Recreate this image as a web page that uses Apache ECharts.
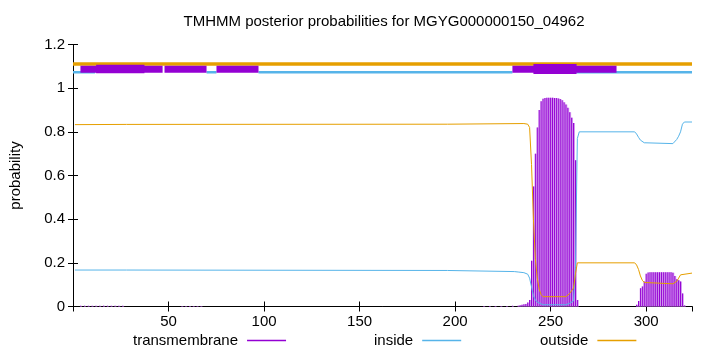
<!DOCTYPE html>
<html>
<head>
<meta charset="utf-8">
<script src="https://cdn.jsdelivr.net/npm/echarts@6/dist/echarts.min.js"></script>
<style>html,body{margin:0;padding:0;background:#fff}#c{width:720px;height:352px}</style>
</head>
<body>
<div id="c"></div>
<script>
// ---- data ----
var titleText = 'TMHMM posterior probabilities for MGYG000000150_04962';
var xTicks = [50, 100, 150, 200, 250, 300];
var yTicks = [0, 0.2, 0.4, 0.6, 0.8, 1, 1.2];
var seqLength = 324;

// transmembrane posterior (residue, probability), impulses
var tmProb = [
  [4,0.003],[6,0.003],[8,0.003],[10,0.003],[12,0.003],[14,0.003],[16,0.003],[18,0.003],[20,0.003],[22,0.003],[24,0.003],[26,0.003],
  [57,0.002],[59,0.002],[61,0.002],[63,0.002],[65,0.002],[67,0.002],
  [215,0.002],[218,0.002],[221,0.002],[224,0.002],[227,0.002],[230,0.003],
  [233,0.004],[234,0.006],[235,0.008],[236,0.010],[237,0.012],[238,0.018],[239,0.030],
  [240,0.21],[241,0.55],[242,0.70],[243,0.82],[244,0.90],[245,0.94],[246,0.952],[247,0.955],
  [248,0.956],[249,0.956],[250,0.956],[251,0.956],[252,0.955],[253,0.955],[254,0.953],[255,0.950],
  [256,0.945],[257,0.935],[258,0.925],[259,0.910],[260,0.890],[261,0.865],[262,0.840],[263,0.670],[264,0.030],
  [295,0.008],[296,0.025],[297,0.084],[298,0.092],[299,0.115],[300,0.150],[301,0.156],[302,0.157],
  [303,0.157],[304,0.157],[305,0.157],[306,0.157],[307,0.157],[308,0.157],[309,0.157],[310,0.157],
  [311,0.157],[312,0.157],[313,0.157],[314,0.155],[315,0.140],[316,0.125],[317,0.120],[318,0.115],
  [319,0.060],[320,0.005]
];

// inside posterior (residue, probability)
var insideProb = [
  [1,0.167],[28,0.167],[29,0.166],[196,0.165],[197,0.162],[231,0.160],[233,0.158],[236,0.155],
  [238,0.148],[239,0.130],[240,0.090],[241,0.050],[242,0.030],[243,0.020],[244,0.012],[246,0.008],
  [258,0.008],[260,0.015],[262,0.025],[263,0.180],[264,0.770],[265,0.800],[294,0.800],[295,0.790],
  [296,0.775],[297,0.762],[298,0.755],[299,0.750],[300,0.746],[314,0.746],[315,0.755],[316,0.765],
  [317,0.780],[318,0.800],[319,0.835],[320,0.845],[324,0.845]
];

// outside posterior (residue, probability)
var outsideProb = [
  [1,0.833],[28,0.834],[29,0.835],[196,0.835],[197,0.838],[236,0.838],[238,0.835],[239,0.820],
  [240,0.650],[241,0.400],[242,0.220],[243,0.130],[244,0.080],[245,0.055],[246,0.045],[258,0.045],
  [259,0.050],[260,0.060],[261,0.065],[262,0.085],[263,0.150],[264,0.200],[294,0.200],[295,0.190],
  [296,0.170],[297,0.140],[298,0.120],[299,0.110],[300,0.104],[314,0.104],[315,0.106],[316,0.115],
  [317,0.130],[318,0.145],[319,0.153],[324,0.153]
];

// predicted topology track (residue ranges)
var topoOutside = [[0,324]];
var topoInside = [[0,11.6],[69.9,75.1],[97.1,230],[263.6,324]];
var topoTM = [[3.9,46.9],[47.9,69.9],[75.1,97.1],[230,284.5]];
var topoTMStrong = [[12.1,37.4],[241,263.6]];

// ---- styles ----
var PURPLE = '#9400D3', LIGHTPURPLE = '#d49ef0', BLUE = '#56B4E9', ORANGE = '#E69F00';
var FONT = 'Liberation Sans, Arial, sans-serif';
var FS = 15;
var levels = {outside:1.111, inside:1.073, tm:1.087, tmStrong:1.088};
var strongWidths = [8.5, 10];

function segSeries(segs, y, color, width) {
  return segs.map(function (s, i) {
    var w = Array.isArray(width) ? width[i] : width;
    return {
      type: 'line', silent: true, symbol: 'none', z: 5,
      data: [[s[0], y], [s[1], y]],
      lineStyle: {color: color, width: w, cap: 'butt'},
      itemStyle: {color: color},
      animation: false
    };
  });
}

var series = [
  {name: 'tmfill', type: 'bar', barWidth: 1.9, barGap: '-100%', data: tmProb,
   itemStyle: {color: LIGHTPURPLE}, silent: true, animation: false, z: 1},
  {name: 'transmembrane', type: 'bar', barWidth: 1, barGap: '-100%', data: tmProb,
   itemStyle: {color: PURPLE}, color: PURPLE, silent: true, animation: false, z: 2},
  {name: 'inside', type: 'line', data: insideProb, symbol: 'none', color: BLUE,
   lineStyle: {color: BLUE, width: 1}, itemStyle: {color: BLUE}, animation: false, z: 3},
  {name: 'outside', type: 'line', data: outsideProb, symbol: 'none', color: ORANGE,
   lineStyle: {color: ORANGE, width: 1}, itemStyle: {color: ORANGE}, animation: false, z: 3}
];
series = series
  .concat(segSeries(topoOutside, levels.outside, ORANGE, 3.5))
  .concat(segSeries(topoInside, levels.inside, BLUE, 2.6))
  .concat(segSeries(topoTM, levels.tm, PURPLE, 7))
  .concat(segSeries(topoTMStrong, levels.tmStrong, PURPLE, strongWidths));

function legendAt(name, left) {
  return {
    data: [name], left: left, top: 333, align: 'right', icon: 'rect',
    itemWidth: 39, itemHeight: 1.5, padding: 0, selectedMode: false,
    textStyle: {fontSize: FS, fontFamily: FONT, color: '#000', padding: [0, 4, 0, 0]}
  };
}

var axisCommon = {
  type: 'value', splitLine: {show: false},
  axisLine: {show: true, lineStyle: {color: '#000', width: 1}},
  axisTick: {show: true, inside: true, length: 5, lineStyle: {color: '#000'}}
};

var option = {
  backgroundColor: '#fff',
  animation: false,
  title: {
    text: titleText, left: 384, top: 14, padding: 0, textAlign: 'center',
    textStyle: {fontSize: FS, fontWeight: 'normal', fontFamily: FONT, color: '#000'}
  },
  grid: {left: 73, right: 28, top: 44.5, bottom: 45.5, containLabel: false},
  legend: [legendAt('transmembrane', 133), legendAt('inside', 374), legendAt('outside', 540)],
  xAxis: [
    Object.assign({}, axisCommon, {
      min: 0, max: seqLength, interval: 50, position: 'bottom',
      axisLabel: {fontSize: FS, fontFamily: FONT, color: '#000', margin: 8,
        showMinLabel: false, showMaxLabel: false,
        formatter: function (v) { return xTicks.indexOf(v) >= 0 ? String(v) : ''; }}
    }),
    Object.assign({}, axisCommon, {
      min: 0, max: seqLength, interval: 50, position: 'top', axisLabel: {show: false}
    })
  ],
  yAxis: [
    Object.assign({}, axisCommon, {
      min: 0, max: 1.2, interval: 0.2, position: 'left',
      name: 'probability', nameLocation: 'middle', nameGap: 50, nameRotate: 90,
      nameTextStyle: {fontSize: FS, fontFamily: FONT, color: '#000'},
      axisLabel: {fontSize: FS, fontFamily: FONT, color: '#000', margin: 8,
        formatter: function (v) {
          for (var i = 0; i < yTicks.length; i++) if (Math.abs(yTicks[i] - v) < 1e-6) return String(yTicks[i]);
          return '';
        }}
    }),
    Object.assign({}, axisCommon, {
      min: 0, max: 1.2, interval: 0.2, position: 'right', axisLabel: {show: false}
    })
  ],
  series: series
};

var chart = echarts.init(document.getElementById('c'), null, {renderer: 'canvas'});
chart.setOption(option);
</script>
</body>
</html>
